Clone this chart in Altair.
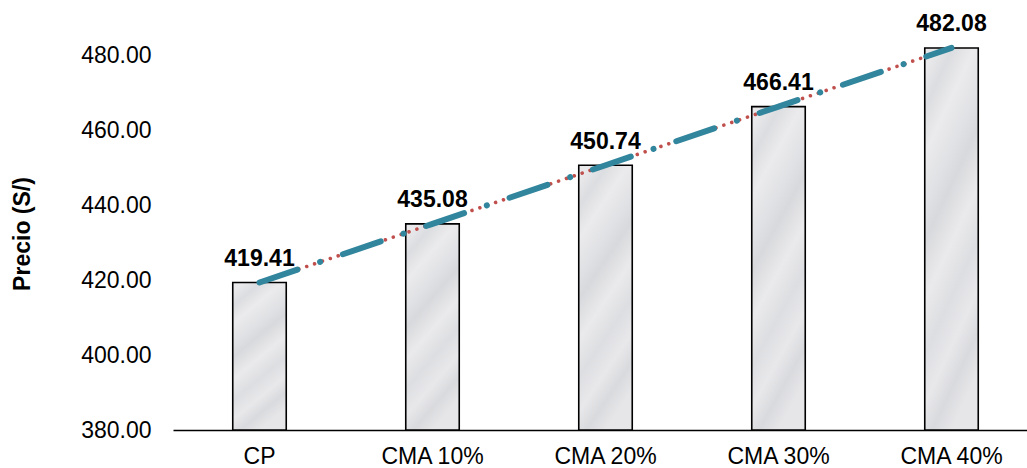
import altair as alt
import pandas as pd

# Cost per mix, in soles
categories = ["CP", "CMA 10%", "CMA 20%", "CMA 30%", "CMA 40%"]
prices = [419.41, 435.08, 450.74, 466.41, 482.08]
y_ticks = [380, 400, 420, 440, 460, 480]

df = pd.DataFrame({"mezcla": categories, "precio": prices})

FONT = "Liberation Sans, Arial"
TEAL = "#31859C"
RED = "#C0504D"

x_enc = alt.X(
    "mezcla:N",
    sort=categories,
    title=None,
    scale=alt.Scale(paddingInner=0.6908, paddingOuter=0.3136, align=0.5507),
    axis=alt.Axis(
        labelAngle=0,
        labelFont=FONT,
        labelFontSize=23,
        labelColor="#000000",
        labelPadding=15,
        ticks=False,
        domainColor="#000000",
        domainWidth=1.5,
        grid=False,
    ),
)
y_scale = alt.Scale(domain=[380, 485], nice=False, zero=False)
y_enc = alt.Y(
    "precio:Q",
    scale=y_scale,
    title="Precio (S/)",
    axis=alt.Axis(
        values=y_ticks,
        format=".2f",
        labelFont=FONT,
        labelFontSize=23,
        labelColor="#000000",
        labelPadding=22,
        ticks=False,
        domain=False,
        grid=False,
        titleFont=FONT,
        titleFontSize=23,
        titleFontWeight="bold",
        titleColor="#000000",
        titlePadding=46,
    ),
)

# soft, light marble-like fill for the bars
marble = alt.Gradient(
    gradient="linear",
    x1=0.2, y1=0, x2=0.5, y2=1,
    stops=[
        alt.GradientStop(color="#e9e9ec", offset=0.0),
        alt.GradientStop(color="#dcdde0", offset=0.09),
        alt.GradientStop(color="#ebebed", offset=0.2),
        alt.GradientStop(color="#e0e1e4", offset=0.33),
        alt.GradientStop(color="#d8d9dc", offset=0.41),
        alt.GradientStop(color="#eaeaec", offset=0.55),
        alt.GradientStop(color="#dddee1", offset=0.68),
        alt.GradientStop(color="#e8e8eb", offset=0.8),
        alt.GradientStop(color="#d9dadd", offset=0.9),
        alt.GradientStop(color="#e6e6e9", offset=1.0),
    ],
)

base = alt.Chart(df)

bars = base.mark_bar(fill=marble, stroke="#000000", strokeWidth=1.6).encode(
    x=x_enc,
    y=y_enc,
    y2=alt.datum(380),
)

dotted = base.mark_line(
    color=RED, strokeWidth=3.6, strokeCap="round", strokeDash=[0.01, 8.3]
).encode(x=alt.X("mezcla:N", sort=categories), y=alt.Y("precio:Q", scale=y_scale))

dashed = base.mark_line(
    color=TEAL, strokeWidth=6, strokeCap="round", strokeDash=[40, 24, 0.01, 24]
).encode(x=alt.X("mezcla:N", sort=categories), y=alt.Y("precio:Q", scale=y_scale))

labels = base.mark_text(
    font=FONT, fontSize=23, fontWeight="bold", color="#000000",
    baseline="alphabetic", dy=-16.5,
).encode(
    x=alt.X("mezcla:N", sort=categories),
    y=alt.Y("precio:Q", scale=y_scale),
    text=alt.Text("precio:Q", format=".2f"),
)

chart = (
    alt.layer(bars, dotted, dashed, labels)
    .properties(
        width=854,
        height=393,
        padding={"left": 173, "top": 37, "right": 0, "bottom": 38},
        autosize="none",
        background="#ffffff",
    )
    .configure_view(stroke=None)
)

chart.save("out.html", embed_options={"renderer": "svg", "actions": False})
